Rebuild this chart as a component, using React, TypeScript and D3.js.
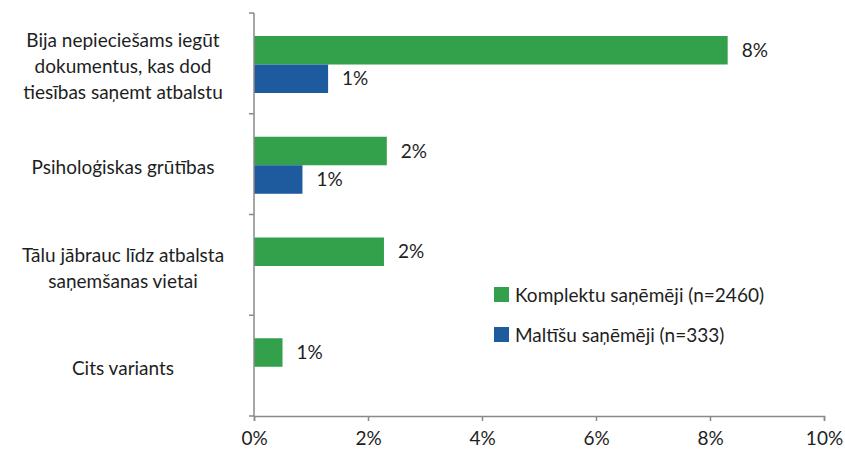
import { useEffect, useRef } from "react";
import * as d3 from "d3";

const categories = [
  "Bija nepieciešams iegūt\ndokumentus, kas dod\ntiesības saņemt atbalstu",
  "Psiholoģiskas grūtības",
  "Tālu jābrauc līdz atbalsta\nsaņemšanas vietai",
  "Cits variants",
];
const seriesNames = ["Komplektu saņēmēji (n=2460)", "Maltīšu saņēmēji (n=333)"];
const komplektu = [8.31, 2.33, 2.28, 0.5];
const maltisu = [1.3, 0.85, null, null];
const valueLabels = [
  ["8%", "1%"],
  ["2%", "1%"],
  ["2%", null],
  ["1%", null],
];
const xTicks = [0, 2, 4, 6, 8, 10];
const colors = ["#33a04b", "#1d5a9e"];

export default function App() {
  const ref = useRef<SVGSVGElement>(null);

  useEffect(() => {
    document.body.style.margin = "0";
    const width = 845;
    const height = 457;
    const svg = d3.select(ref.current).attr("width", width).attr("height", height);
    svg.selectAll("*").remove();

    const font = "Lato, 'Open Sans', sans-serif";
    const left = 254;
    const right = 824;
    const top = 13;
    const bottom = 416;

    const x = d3.scaleLinear().domain([0, 10]).range([left, right]);
    const y = d3.scaleBand<number>().domain(d3.range(categories.length)).range([top, bottom]);
    const inner = d3.scaleBand<number>().domain([0, 1]).range([23, 80]);

    const series = [komplektu, maltisu];

    // bars
    series.forEach((vals, s) => {
      svg.append("g")
        .selectAll("rect")
        .data(vals.map((v, i) => ({ v, i })).filter(d => d.v != null))
        .join("rect")
        .attr("x", x(0))
        .attr("y", d => y(d.i)! + inner(s)!)
        .attr("width", d => x(d.v as number) - x(0))
        .attr("height", inner.bandwidth())
        .attr("fill", colors[s]);

      svg.append("g")
        .selectAll("text")
        .data(vals.map((v, i) => ({ v, i })).filter(d => d.v != null))
        .join("text")
        .attr("x", d => x(d.v as number) + 14)
        .attr("y", d => y(d.i)! + inner(s)! + inner.bandwidth() / 2)
        .attr("dy", "0.35em")
        .attr("font-family", font)
        .attr("font-size", 19)
        .attr("fill", "#1e1e1e")
        .text(d => valueLabels[d.i][s] as string);
    });

    // y axis
    const axisColor = "#8a8a8a";
    svg.append("line")
      .attr("x1", left).attr("x2", left)
      .attr("y1", top).attr("y2", bottom)
      .attr("stroke", axisColor).attr("stroke-width", 1.5);
    svg.append("g")
      .selectAll("line")
      .data(d3.range(categories.length + 1))
      .join("line")
      .attr("x1", left - 5).attr("x2", left)
      .attr("y1", i => top + i * y.step())
      .attr("y2", i => top + i * y.step())
      .attr("stroke", axisColor).attr("stroke-width", 1.5);

    // category labels
    const lineH = 26;
    svg.append("g")
      .selectAll("text")
      .data(categories.map((c, i) => ({ lines: c.split("\n"), i })))
      .join("text")
      .attr("text-anchor", "middle")
      .attr("font-family", font)
      .attr("font-size", 19)
      .attr("fill", "#1e1e1e")
      .each(function (d) {
        const cy = y(d.i)! + y.bandwidth() / 2 + 3;
        const start = cy - ((d.lines.length - 1) * lineH) / 2;
        d3.select(this)
          .selectAll("tspan")
          .data(d.lines)
          .join("tspan")
          .attr("x", 123)
          .attr("y", (_, k) => start + k * lineH)
          .attr("dy", "0.35em")
          .text(t => t);
      });

    // x axis
    const xAxis = svg.append("g").attr("transform", `translate(0,${bottom})`)
      .call(d3.axisBottom(x).tickValues(xTicks).tickSize(5).tickFormat(d => `${d}%`));
    xAxis.select(".domain").attr("stroke", axisColor).attr("stroke-width", 1.5);
    xAxis.selectAll(".tick line").attr("stroke", axisColor).attr("stroke-width", 1.5);
    xAxis.selectAll(".tick text")
      .attr("font-family", font)
      .attr("font-size", 19)
      .attr("fill", "#1e1e1e")
      .attr("dy", "0")
      .attr("y", 29);

    // legend
    const legend = svg.append("g");
    seriesNames.forEach((name, s) => {
      const ly = 295 + s * 40;
      legend.append("rect")
        .attr("x", 494).attr("y", ly - 8)
        .attr("width", 15).attr("height", 15)
        .attr("fill", colors[s]);
      legend.append("text")
        .attr("x", 515).attr("y", ly)
        .attr("dy", "0.35em")
        .attr("font-family", font)
        .attr("font-size", 19)
        .attr("fill", "#1e1e1e")
        .text(name);
    });
  }, []);

  return <svg ref={ref}></svg>;
}
